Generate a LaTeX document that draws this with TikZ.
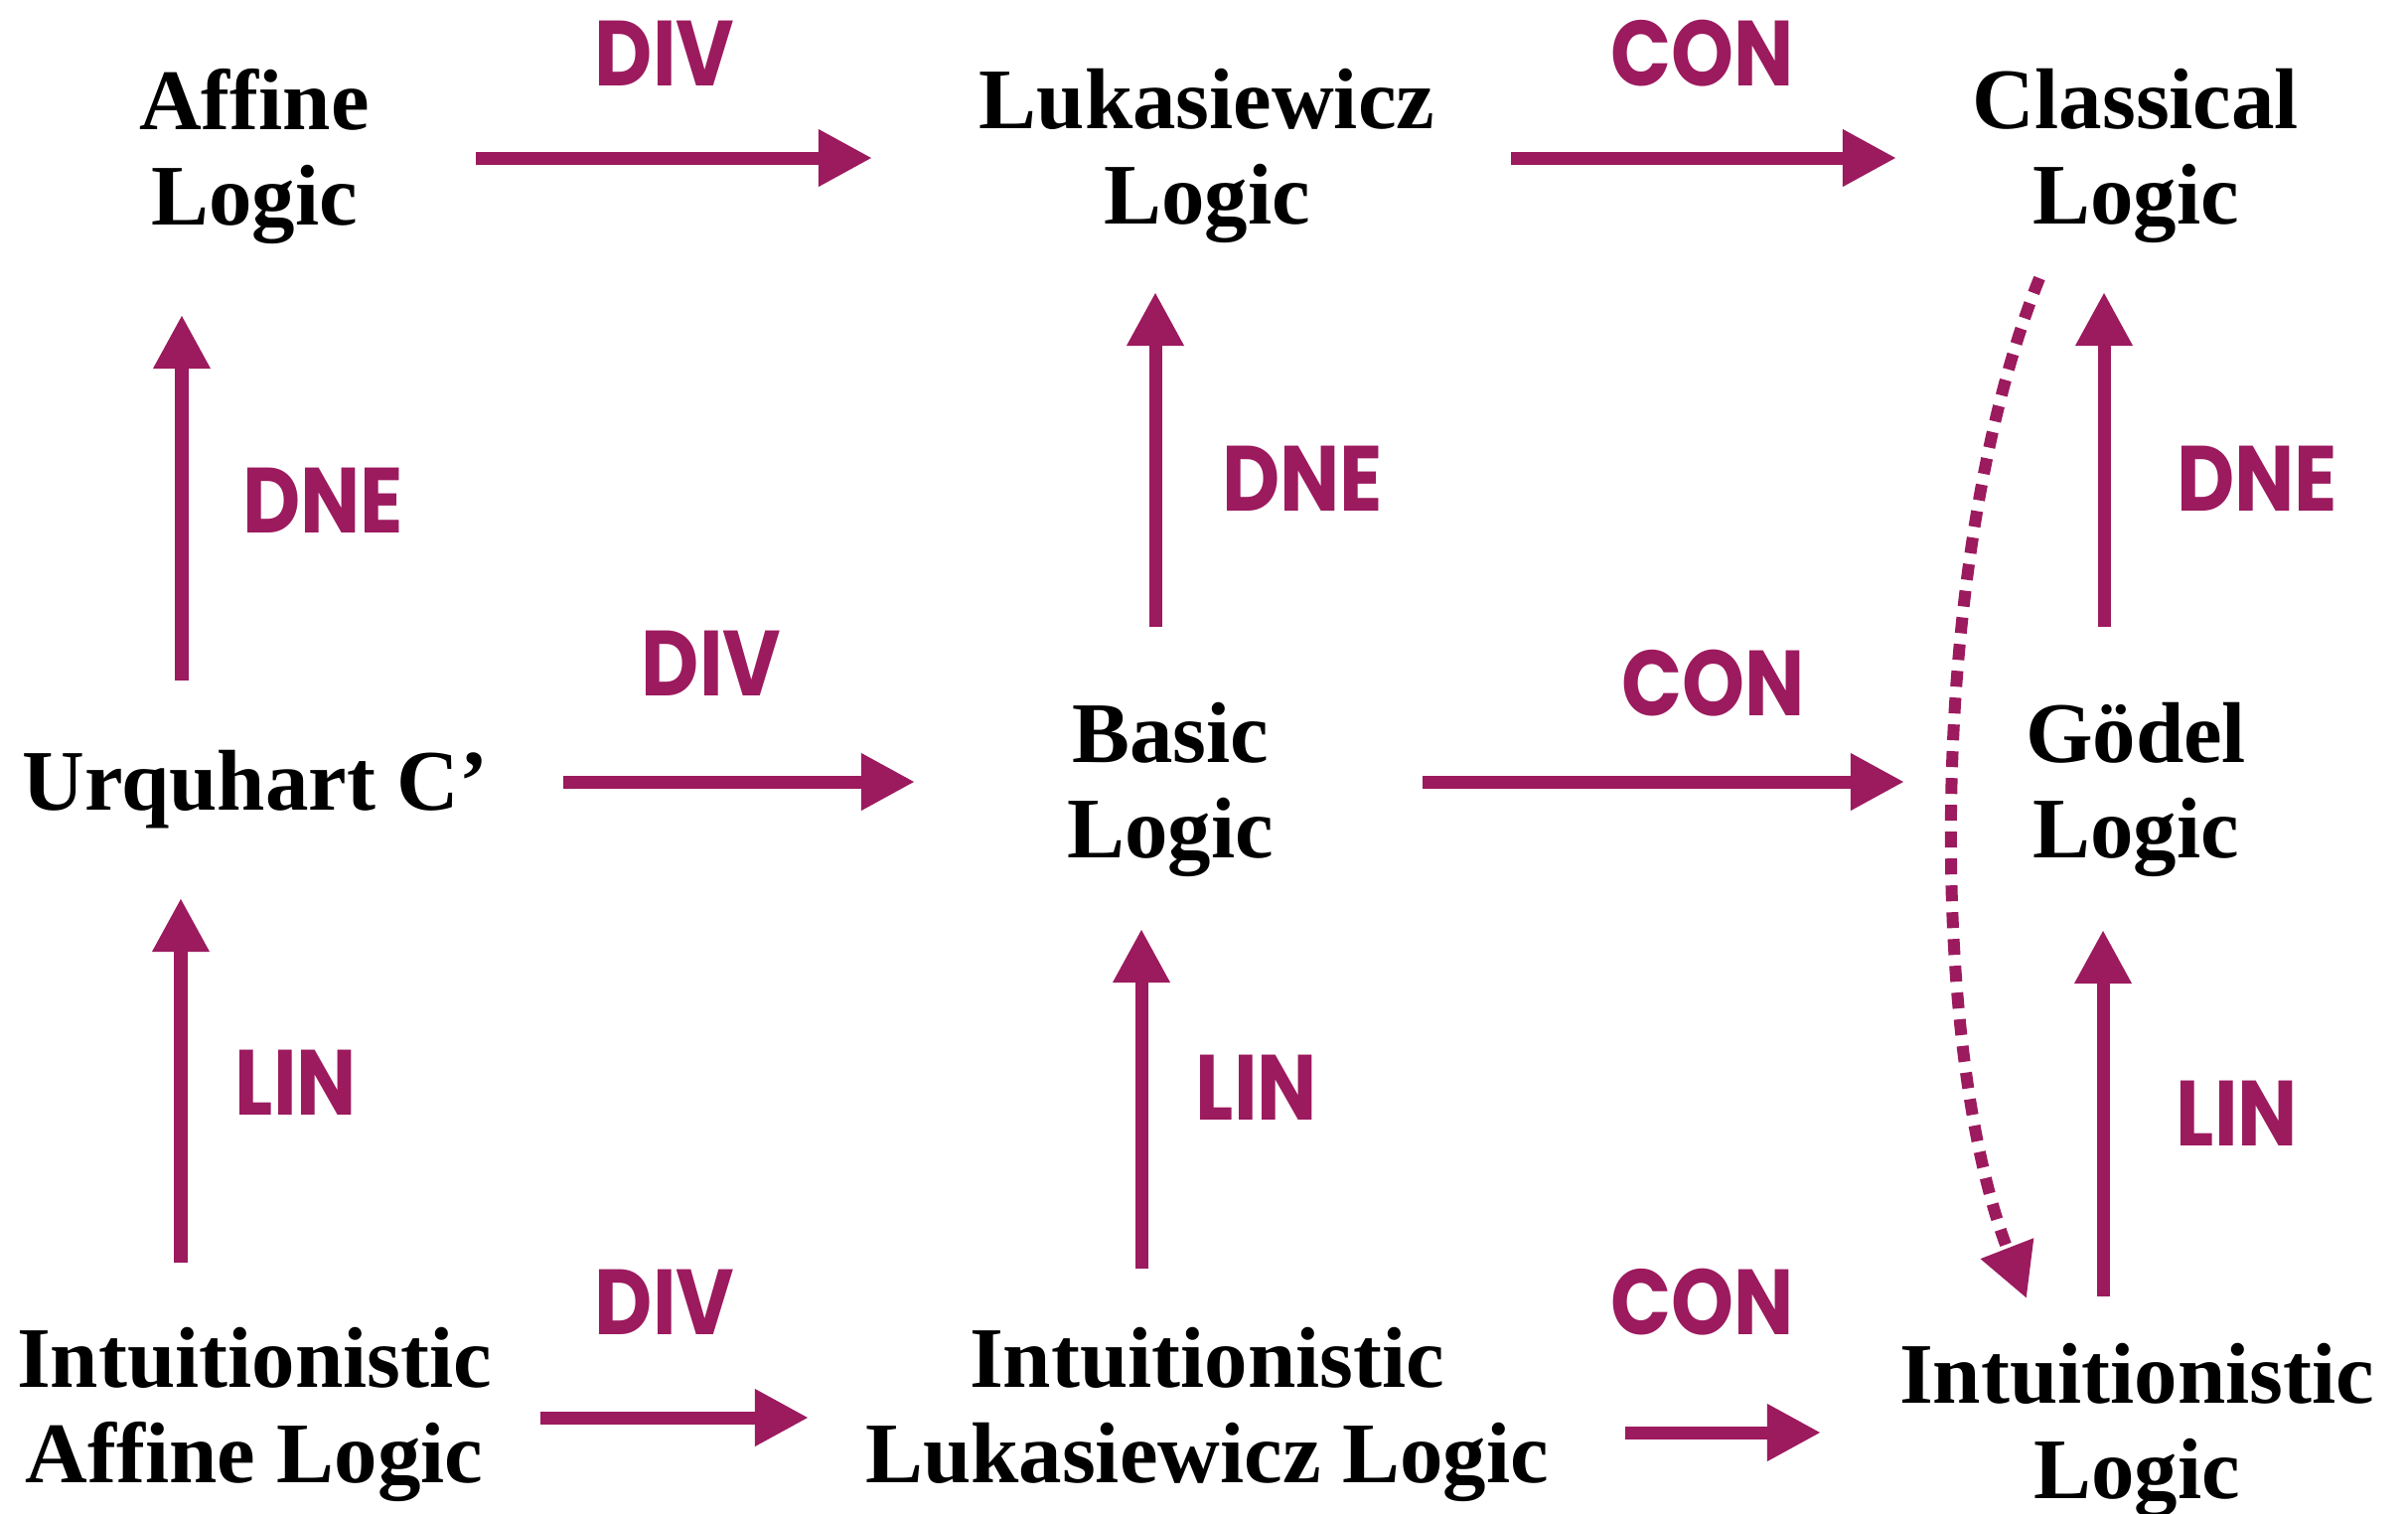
\documentclass[tikz,border=0pt]{standalone}
\usepackage{fontspec}
\setmainfont{Liberation Serif}
\newfontfamily\labfont{Poppins}[FakeStretch=0.86]
\usetikzlibrary{arrows.meta,calc}
\definecolor{plum}{RGB}{156,26,94}
\begin{document}
\begin{tikzpicture}[x=0.01cm,y=-0.01cm,
  logic/.style={align=center, inner sep=0pt,
    font=\fontsize{24.7}{27.3}\selectfont\bfseries},
  rule/.style={text=plum, inner sep=0pt,
    font=\labfont\fontsize{26.5}{28}\selectfont\bfseries},
  link/.style={draw=plum, line width=0.13cm,
    -{Triangle[length=0.54cm,width=0.54cm]}},
  dotlink/.style={link, dash pattern=on 0.16cm off 0.11cm, line width=0.12cm}]
\useasboundingbox (0,0) rectangle (2424,1523);

% logics
\node[logic] (aff) at (256,157)  {Affine\\Logic};
\node[logic] (luk) at (1215,157) {Lukasiewicz\\Logic};
\node[logic] (cla) at (2150,157) {Classical\\Logic};
\node[logic] (urq) at (257,795)  {Urquhart C’};
\node[logic] (bas) at (1178,795) {Basic\\Logic};
\node[logic] (god) at (2150,795) {Gödel\\Logic};
\node[logic] (iaf) at (256,1424) {Intuitionistic\\Affine Logic};
\node[logic] (ilu) at (1215,1424) {Intuitionistic\\Lukasiewicz Logic};
\node[logic] (int) at (2151,1440) {Intuitionistic\\Logic};

% rule labels
\node[rule] (divA) at (669,54)   {DIV};
\node[rule] (conA) at (1714,54)  {CON};
\node[rule] (dneA) at (325,504)  {DNE};
\node[rule] (dneB) at (1311,482) {DNE};
\node[rule] (dneC) at (2272,482) {DNE};
\node[rule] (divB) at (716,668)  {DIV};
\node[rule] (conB) at (1725,688) {CON};
\node[rule] (linA) at (298,1090) {LIN};
\node[rule] (linB) at (1265,1095) {LIN};
\node[rule] (linC) at (2252,1121) {LIN};
\node[rule] (divC) at (669,1311) {DIV};
\node[rule] (conC) at (1714,1311) {CON};

% horizontal extensions
\draw[link] ($(aff)+(223,2)$) -- ($(luk)+(-337,2)$);
\draw[link] ($(luk)+(306,2)$) -- ($(cla)+(-241,2)$);
\draw[link] ($(urq)+(310,-8)$) -- ($(bas)+(-257,-8)$);
\draw[link] ($(bas)+(254,-8)$) -- ($(god)+(-233,-8)$);
\draw[link] ($(iaf)+(288,3)$) -- ($(ilu)+(-401,3)$);
\draw[link] ($(ilu)+(421,18)$) -- ($(int)+(-318,2)$);

% vertical extensions
\draw[link] ($(urq)+(-74,-110)$) -- ($(aff)+(-73,160)$);
\draw[link] ($(bas)+(-15,-164)$) -- ($(luk)+(-52,137)$);
\draw[link] ($(god)+(-32,-164)$) -- ($(cla)+(-32,137)$);
\draw[link] ($(iaf)+(-74,-153)$) -- ($(urq)+(-75,109)$);
\draw[link] ($(ilu)+(-66,-147)$) -- ($(bas)+(-29,140)$);
\draw[link] ($(int)+(-34,-135)$) -- ($(god)+(-33,141)$);

% classical down to intuitionistic
\draw[dotlink] ($(cla)+(-97,123)$)
  .. controls ($(cla)+(-210,403)$) and ($(int)+(-211,-390)$) .. ($(int)+(-111,-133)$);
\end{tikzpicture}
\end{document}
